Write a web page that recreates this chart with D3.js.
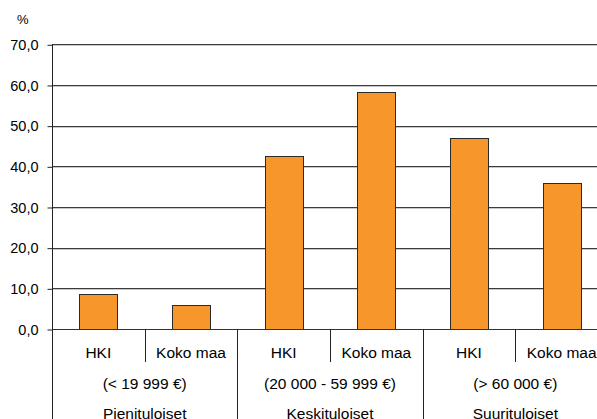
<!DOCTYPE html>
<html><head><meta charset="utf-8">
<script src="https://cdnjs.cloudflare.com/ajax/libs/d3/7.8.5/d3.min.js"></script>
<style>
html,body{margin:0;padding:0;background:#fff;}
svg{display:block;font-family:"Liberation Sans",Arial,sans-serif;}
</style></head>
<body>
<svg id="c" width="597" height="419"></svg>
<script>
const categories = ["HKI","Koko maa","HKI","Koko maa","HKI","Koko maa"];
const groupRanges = ["(< 19 999 €)","(20 000 - 59 999 €)","(> 60 000 €)"];
const groupNames = ["Pienituloiset","Keskituloiset","Suurituloiset"];
const values = [8.5, 5.8, 42.6, 58.2, 47.0, 36.0];
const yTicks = [0,10,20,30,40,50,60,70];
const yUnit = "%";

(function(){
const svg = d3.select("#c");
const L = 52, R = 608, T = 44.3, Z = 329;
const ids = categories.map((d,i)=>i);
const y = d3.scaleLinear().domain([0,70]).range([Z, T]);
const slot = d3.scaleBand().domain(ids).range([L,R]);
const x = d3.scaleBand().domain(ids).range([L,R]).paddingInner(0.59).paddingOuter(0.295);
const g3 = d3.scaleBand().domain(d3.range(groupNames.length)).range([L,R]);

// gridlines
svg.append("g").selectAll("line").data(yTicks.filter(t=>t>0)).join("line")
  .attr("x1",L).attr("x2",597)
  .attr("y1",d=>Math.round(y(d))+0.5).attr("y2",d=>Math.round(y(d))+0.5)
  .attr("stroke","#3c3c3c").attr("stroke-width",1);
svg.append("g").selectAll("line").data(yTicks.filter(t=>t>0)).join("line")
  .attr("x1",L).attr("x2",597)
  .attr("y1",d=>Math.round(y(d))+1.5).attr("y2",d=>Math.round(y(d))+1.5)
  .attr("stroke","#c8c8c8").attr("stroke-width",1);

// y axis
const yAxis = d3.axisLeft(y).tickValues(yTicks).tickSize(5).tickPadding(9)
  .tickFormat(d=>d3.format(".1f")(d).replace(".",","));
const ya = svg.append("g").attr("transform",`translate(${L+0.5},0.5)`).call(yAxis);
ya.select(".domain").remove();
ya.selectAll(".tick line").attr("stroke","#222");
ya.selectAll(".tick text").attr("font-size","14.5px").attr("fill","#000")
  .attr("font-family","Liberation Sans, Arial, sans-serif");

// bars
svg.append("g").selectAll("rect").data(values).join("rect")
  .attr("x",(d,i)=>Math.round(x(i))+0.5)
  .attr("width",Math.round(x.bandwidth()))
  .attr("y",d=>Math.round(y(d))+0.5)
  .attr("height",d=>Z-Math.round(y(d)))
  .attr("fill","#F7962B").attr("stroke","#2a2a2a").attr("stroke-width",1);

// zero line
svg.append("line").attr("x1",L).attr("x2",597).attr("y1",Z+0.5).attr("y2",Z+0.5)
  .attr("stroke","#333").attr("stroke-width",1.2);
// left axis line extends to bottom
svg.append("line").attr("x1",L+0.5).attr("x2",L+0.5).attr("y1",T).attr("y2",419)
  .attr("stroke","#222").attr("stroke-width",1);

// dividers
svg.append("g").selectAll("line").data(ids.filter(i=>i%2===1)).join("line")
  .attr("x1",i=>Math.round(slot(i))+0.5).attr("x2",i=>Math.round(slot(i))+0.5)
  .attr("y1",Z).attr("y2",362).attr("stroke","#222");
svg.append("g").selectAll("line").data([1,2]).join("line")
  .attr("x1",i=>Math.round(g3(i))+0.5).attr("x2",i=>Math.round(g3(i))+0.5)
  .attr("y1",Z).attr("y2",419).attr("stroke","#222");

// category labels
svg.append("g").selectAll("text").data(categories).join("text")
  .attr("x",(d,i)=>slot(i)+slot.bandwidth()/2).attr("y",358)
  .attr("text-anchor","middle").attr("font-size","15.5px").text(d=>d);
svg.append("g").selectAll("text").data(groupRanges).join("text")
  .attr("x",(d,i)=>g3(i)+g3.bandwidth()/2).attr("y",389)
  .attr("text-anchor","middle").attr("font-size","15.5px").text(d=>d);
svg.append("g").selectAll("text").data(groupNames).join("text")
  .attr("x",(d,i)=>g3(i)+g3.bandwidth()/2).attr("y",418.5)
  .attr("text-anchor","middle").attr("font-size","15.5px").text(d=>d);

svg.append("text").attr("x",17).attr("y",24).attr("font-size","13px").text(yUnit);
})();
</script>
</body></html>
